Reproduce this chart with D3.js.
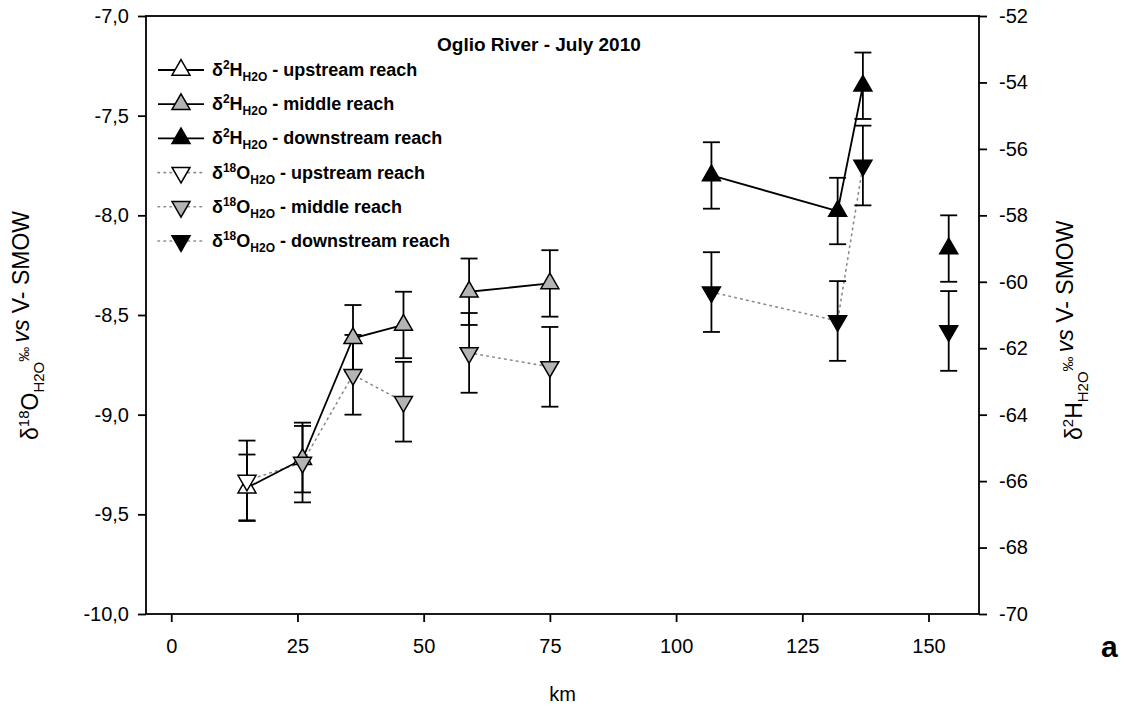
<!DOCTYPE html>
<html>
<head>
<meta charset="utf-8">
<script src="https://cdn.jsdelivr.net/npm/d3@7"></script>
<style>
  body { margin: 0; background: #fff; }
  svg { display: block; font-family: "Liberation Sans", Arial, Helvetica, sans-serif; }
</style>
</head>
<body>
<svg id="chart" width="1130" height="710"></svg>
<script>
// Sampling sites along the Oglio River (distance in km) and their reach
const km = [15, 26, 36, 46, 59, 75, 107, 132, 137, 154];
const reach = ["upstream", "middle", "middle", "middle", "middle", "middle",
               "downstream", "downstream", "downstream", "downstream"];

// δ18O (‰ vs V-SMOW), left axis
const d18O    = [-9.33, -9.24, -8.80, -8.935, -8.69, -8.76, -8.385, -8.53, -7.75, -8.58];
const d18OErr = [0.20, 0.20, 0.20, 0.20, 0.20, 0.20, 0.20, 0.20, 0.20, 0.20];

// δ2H (‰ vs V-SMOW), right axis
const d2H    = [-66.2, -65.34, -61.7, -61.3, -60.3, -60.05, -56.8, -57.87, -54.1, -59.0];
const d2HErr = [1.0, 1.0, 1.0, 1.0, 1.0, 1.0, 1.0, 1.0, 1.0, 1.0];

// consecutive sites joined by a line (indices into the arrays above)
const lineRuns = [[0, 1, 2, 3], [4, 5], [6, 7, 8]];

// axis ticks
const xTicks = [0, 25, 50, 75, 100, 125, 150];
const yLeftTicks = [-10, -9.5, -9, -8.5, -8, -7.5, -7];
const yRightTicks = [-70, -68, -66, -64, -62, -60, -58, -56, -54, -52];

// legend entries
const legendIsotope = ["H", "H", "H", "O", "O", "O"];
const legendReach = ["upstream", "middle", "downstream", "upstream", "middle", "downstream"];
const legendText = [" - upstream reach", " - middle reach", " - downstream reach",
                    " - upstream reach", " - middle reach", " - downstream reach"];

const chartTitle = "Oglio River - July 2010";
const panelLetter = "a";

const reachFill = { upstream: "#ffffff", middle: "#b4b4b4", downstream: "#000000" };

const svg = d3.select("#chart");
const plot = { left: 146, right: 979, top: 16, bottom: 614 };

const x = d3.scaleLinear().domain([-5, 160]).range([plot.left, plot.right]);
const yL = d3.scaleLinear().domain([-10, -7]).range([plot.bottom, plot.top]);
const yR = d3.scaleLinear().domain([-70, -52]).range([plot.bottom, plot.top]);

const hyphen = s => s.replace(/\u2212/g, "-");
const tickFont = 20;

// ---- axes ----
const axL = svg.append("g").attr("transform", `translate(${plot.left},0)`)
  .call(d3.axisLeft(yL).tickValues(yLeftTicks).tickSize(8).tickPadding(9)
    .tickFormat(d => hyphen(d3.format(".1f")(d)).replace(".", ",")));
const axR = svg.append("g").attr("transform", `translate(${plot.right},0)`)
  .call(d3.axisRight(yR).tickValues(yRightTicks).tickSize(8).tickPadding(12)
    .tickFormat(d => hyphen(d3.format("d")(d))));
const axB = svg.append("g").attr("transform", `translate(0,${plot.bottom})`)
  .call(d3.axisBottom(x).tickValues(xTicks).tickSize(8).tickPadding(17)
    .tickFormat(d3.format("d")));

[axL, axR, axB].forEach(g => {
  g.select(".domain").remove();
  g.selectAll(".tick line").attr("stroke", "#000").attr("stroke-width", 1.8);
  g.selectAll(".tick text").attr("font-size", tickFont).attr("fill", "#000")
    .attr("font-family", "'Liberation Sans', Arial, sans-serif");
});

// frame
svg.append("rect")
  .attr("x", plot.left).attr("y", plot.top)
  .attr("width", plot.right - plot.left).attr("height", plot.bottom - plot.top)
  .attr("fill", "none").attr("stroke", "#000").attr("stroke-width", 1.8);

// ---- axis titles ----
svg.append("text")
  .attr("x", x(77.5)).attr("y", 701)
  .attr("text-anchor", "middle").attr("font-size", 20)
  .text("km");

function axisTitle(xPos, sup, main) {
  const t = svg.append("text")
    .attr("transform", `translate(${xPos},440) rotate(-90)`)
    .attr("font-size", 23);
  t.append("tspan").text("\u03B4");
  t.append("tspan").attr("font-size", 15).attr("dy", -9).text(sup);
  t.append("tspan").attr("dy", 9).text(main);
  t.append("tspan").attr("font-size", 15).attr("dy", 6).text("H2O");
  t.append("tspan").attr("font-size", 15).attr("dy", -15).text("\u2030 ");
  t.append("tspan").attr("font-style", "italic").text("vs");
  t.append("tspan").text(" V- SMOW");
}
axisTitle(38, "18", "O");
axisTitle(1082, "2", "H");

// ---- connecting lines ----
const lineH = d3.line().x(i => x(km[i])).y(i => yR(d2H[i]));
const lineO = d3.line().x(i => x(km[i])).y(i => yL(d18O[i]));

svg.append("g").selectAll("path").data(lineRuns).join("path")
  .attr("d", lineO).attr("fill", "none")
  .attr("stroke", "#8a8a8a").attr("stroke-width", 1.6)
  .attr("stroke-dasharray", "1.5,4.5").attr("stroke-linecap", "round");

svg.append("g").selectAll("path").data(lineRuns).join("path")
  .attr("d", lineH).attr("fill", "none")
  .attr("stroke", "#000").attr("stroke-width", 1.8);

// ---- error bars ----
const capHalf = 8.5;
function errorBars(vals, errs, scale) {
  const g = svg.append("g").attr("stroke", "#000").attr("stroke-width", 1.8);
  km.forEach((k, i) => {
    const cx = x(k), y1 = scale(vals[i] - errs[i]), y2 = scale(vals[i] + errs[i]);
    g.append("line").attr("x1", cx).attr("x2", cx).attr("y1", y1).attr("y2", y2);
    g.append("line").attr("x1", cx - capHalf).attr("x2", cx + capHalf).attr("y1", y1).attr("y2", y1);
    g.append("line").attr("x1", cx - capHalf).attr("x2", cx + capHalf).attr("y1", y2).attr("y2", y2);
  });
}
errorBars(d2H, d2HErr, yR);
errorBars(d18O, d18OErr, yL);

// ---- markers ----
const tri = d3.symbol().type(d3.symbolTriangle).size(140)();

svg.append("g").selectAll("path").data(km).join("path")
  .attr("d", tri)
  .attr("transform", (k, i) => `translate(${x(k)},${yR(d2H[i])})`)
  .attr("fill", (k, i) => reachFill[reach[i]])
  .attr("stroke", "#000").attr("stroke-width", 1.5);

svg.append("g").selectAll("path").data(km).join("path")
  .attr("d", tri)
  .attr("transform", (k, i) => `translate(${x(k)},${yL(d18O[i])}) rotate(180)`)
  .attr("fill", (k, i) => reachFill[reach[i]])
  .attr("stroke", "#000").attr("stroke-width", 1.5);

// ---- legend ----
svg.append("text")
  .attr("x", 437).attr("y", 51)
  .attr("font-size", 19).attr("font-weight", "bold")
  .text(chartTitle);

const legendY0 = 70, legendDy = 34.2;
legendIsotope.forEach((iso, r) => {
  const cy = legendY0 + r * legendDy;
  const isH = iso === "H";
  svg.append("line")
    .attr("x1", 158).attr("x2", 204).attr("y1", cy).attr("y2", cy)
    .attr("stroke", isH ? "#000" : "#8a8a8a")
    .attr("stroke-width", isH ? 1.8 : 1.6)
    .attr("stroke-dasharray", isH ? null : "1.5,4.5")
    .attr("stroke-linecap", isH ? "butt" : "round");
  svg.append("path")
    .attr("d", tri)
    .attr("transform", `translate(181,${cy})` + (isH ? "" : " rotate(180)"))
    .attr("fill", reachFill[legendReach[r]])
    .attr("stroke", "#000").attr("stroke-width", 1.5);

  const t = svg.append("text")
    .attr("x", 212).attr("y", cy + 6)
    .attr("font-size", 18).attr("font-weight", "bold");
  t.append("tspan").text("\u03B4");
  t.append("tspan").attr("font-size", 12).attr("dy", -7).text(isH ? "2" : "18");
  t.append("tspan").attr("dy", 7).text(isH ? "H" : "O");
  t.append("tspan").attr("font-size", 12).attr("dy", 5).text("H2O");
  t.append("tspan").attr("dy", -5).text(legendText[r]);
});

// panel letter
svg.append("text")
  .attr("x", 1101).attr("y", 657)
  .attr("font-size", 30).attr("font-weight", "bold")
  .text(panelLetter);
</script>
</body>
</html>
